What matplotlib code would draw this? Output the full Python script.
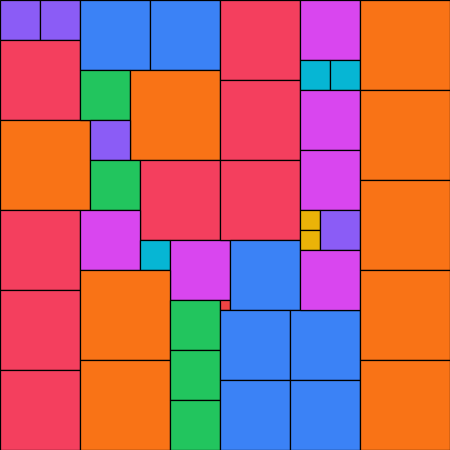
import matplotlib
matplotlib.use("Agg")
import matplotlib.pyplot as plt
from matplotlib.patches import Rectangle

# square packing: left, top, side (pixels of a 450 canvas), colour group
sq_x = [0, 40, 0, 0, 0, 0, 0,
        80, 150, 80, 130, 90, 90, 140, 80, 140, 170, 80, 80,
        170, 170, 170, 220,
        220, 220, 220, 230, 220, 290, 220, 290,
        300, 300, 330, 300, 300, 300, 300, 320, 300,
        360, 360, 360, 360, 360]
sq_y = [0, 0, 40, 120, 210, 290, 370,
        0, 0, 70, 70, 120, 160, 160, 210, 240, 240, 270, 360,
        300, 350, 400, 300,
        0, 80, 160, 240, 310, 310, 380, 380,
        0, 60, 60, 90, 150, 210, 230, 210, 250,
        0, 90, 180, 270, 360]
sq_size = [40, 40, 80, 90, 80, 80, 80,
           70, 70, 50, 90, 40, 50, 80, 60, 30, 60, 90, 90,
           50, 50, 50, 10,
           80, 80, 80, 70, 70, 70, 70, 70,
           60, 30, 30, 60, 60, 20, 20, 40, 60,
           90, 90, 90, 90, 90]

palette = {10: "#ef4444", 20: "#eab308", 30: "#06b6d4", 40: "#8b5cf6",
           50: "#22c55e", 60: "#d946ef", 70: "#3b82f6", 80: "#f43f5e",
           90: "#f97316"}

fig = plt.figure(figsize=(4.5, 4.5), dpi=100)
ax = fig.add_axes([0, 0, 1, 1])
for x, y, s in zip(sq_x, sq_y, sq_size):
    ax.add_patch(Rectangle((x, y), s, s, facecolor=palette[s],
                           edgecolor="black", linewidth=0.9))
ax.set_xlim(0, 450)
ax.set_ylim(450, 0)
ax.axis("off")
fig.savefig("out.png", dpi=100)
